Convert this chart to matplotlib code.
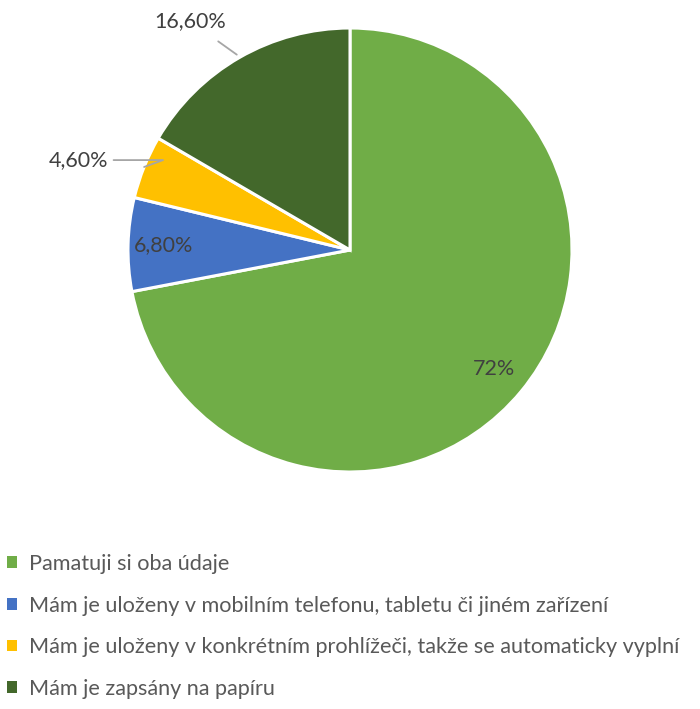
import numpy as np
import matplotlib.pyplot as plt
from matplotlib.patches import Patch

labels = [
    "Pamatuji si oba údaje",
    "Mám je uloženy v mobilním telefonu, tabletu či jiném zařízení",
    "Mám je uloženy v konkrétním prohlížeči, takže se automaticky vyplní",
    "Mám je zapsány na papíru",
]
values = [72.0, 6.8, 4.6, 16.6]
value_texts = ["72%", "6,80%", "4,60%", "16,60%"]
colors = ["#70AD47", "#4472C4", "#FFC000", "#43682B"]

plt.rcParams['font.family'] = ['Lato', 'DejaVu Sans']

fig = plt.figure(figsize=(7.0, 7.09), dpi=100)
ax = fig.add_axes([128 / 700, 1 - 472 / 709, 444 / 700, 444 / 709])
wedges, _ = ax.pie(values, colors=colors, startangle=90, counterclock=False,
                   radius=1.0, wedgeprops=dict(edgecolor="white", linewidth=2.2))
ax.set_aspect("equal")
ax.set_xlim(-1, 1)
ax.set_ylim(-1, 1)
ax.axis("off")

label_color = "#404040"
for i, w in enumerate(wedges):
    mid = np.deg2rad((w.theta1 + w.theta2) / 2)
    if i < 2:
        ax.text(0.84 * np.cos(mid), 0.84 * np.sin(mid), value_texts[i],
                ha="center", va="center", fontsize=15.5, color=label_color)

# outside labels with leader lines
yel = wedges[2]
mid = np.deg2rad((yel.theta1 + yel.theta2) / 2)
tip = (np.cos(mid), np.sin(mid))
ax.annotate(value_texts[2], xy=tip, xytext=(-1.09, 0.405),
            ha="right", va="center", fontsize=15.5, color=label_color, annotation_clip=False,
            arrowprops=dict(arrowstyle="-", color="#A6A6A6", lw=1.3,
                            connectionstyle="angle,angleA=0,angleB=20,rad=0",
                            shrinkA=2, shrinkB=0))
ax.annotate(value_texts[3], xy=(-0.51, 0.88), xytext=(-0.72, 1.03),
            ha="center", va="center", fontsize=15.5, color=label_color, annotation_clip=False,
            arrowprops=dict(arrowstyle="-", color="#A6A6A6", lw=1.3,
                            shrinkA=9, shrinkB=0))

handles = [Patch(facecolor=c, edgecolor="none") for c in colors]
fig.legend(handles, labels, loc="upper left", bbox_to_anchor=(-6 / 700, 1 - 541 / 709),
           frameon=False, fontsize=15.6, labelcolor="#595959",
           handlelength=0.45, handleheight=0.45, handletextpad=0.55,
           labelspacing=1.0, borderaxespad=0.3, borderpad=0.3)

fig.savefig("out.png", dpi=100)
